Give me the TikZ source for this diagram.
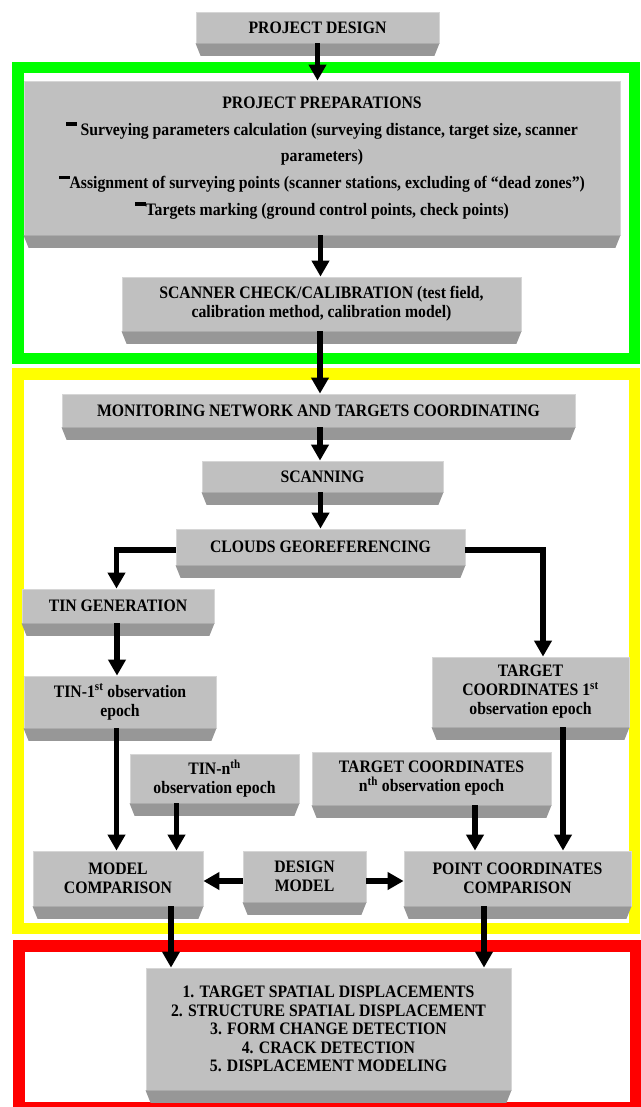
\documentclass[tikz,border=0pt]{standalone}
\usepackage{fontspec}
\setmainfont{Liberation Serif}[FakeStretch=0.9]
\usetikzlibrary{arrows.meta}

\definecolor{facegray}{HTML}{C0C0C0}
\definecolor{faceedge}{HTML}{D6D6D6}
\definecolor{stripgray}{HTML}{979797}
\definecolor{framegreen}{HTML}{00FF00}
\definecolor{frameyellow}{HTML}{FFFF00}
\definecolor{framered}{HTML}{FF0000}

% short raised dash in front of the list lines
\newcommand\bul{\rule[0.55em]{0.6em}{0.19em}}

\begin{document}
\begin{tikzpicture}[x=1pt, y=-1pt,
    % Estilos
    stage/.style 2 args={
        rectangle, fill=facegray, draw=faceedge, line width=0.8pt,
        inner sep=0pt, minimum width=#1, minimum height=#2,
        font=\fontsize{17.5}{19}\selectfont\bfseries, text=black, align=center
    },
    arrow/.style={
        -{Triangle[width=17pt, length=16pt]}, line width=5.5pt, color=black
    },
    frame/.style={
        draw=#1, line width=11.5pt
    }
]

\useasboundingbox[fill=white] (0,0) rectangle (640,1107);

% ── Marcos de fase ──
\draw[frame=framegreen]  (17.75,67.75) rectangle (634.25,358.25);
\draw[frame=frameyellow] (17.75,374)   rectangle (634.25,928.5);
\draw[frame=framered]    (19,946)      rectangle (636,1108);

% ── Preparación ──
\node[stage={243}{31}] (design) at (317.5,27.5) {PROJECT DESIGN};
\node[stage={596}{154}, font=\fontsize{17.5}{26.7}\selectfont\bfseries] (prep) at (322,158)
    {PROJECT PREPARATIONS\\
     \bul{} Surveying parameters calculation (surveying distance, target size, scanner\\
     parameters)\\
     \bul Assignment of surveying points (scanner stations, excluding of ``dead zones'')\\
     \bul Targets marking (ground control points, check points)};
\node[stage={399}{54}] (check) at (321.5,304)
    {SCANNER CHECK/CALIBRATION (test field,\\ calibration method, calibration model)};

% ── Medición ──
\node[stage={513}{33}] (monitor) at (318.5,410.5) {MONITORING NETWORK AND TARGETS COORDINATING};
\node[stage={241}{31}] (scan)    at (322.5,476.5) {SCANNING};
\node[stage={289}{36}] (clouds)  at (320.5,547)   {CLOUDS GEOREFERENCING};
\node[stage={192}{34}] (tingen)  at (118,606)     {TIN GENERATION};
\node[stage={192}{52}] (tin1)    at (120,702)     {TIN-1\textsuperscript{st} observation\\ epoch};
\node[stage={197}{70}] (target1) at (530.5,692)   {TARGET\\ COORDINATES 1\textsuperscript{st}\\ observation epoch};
\node[stage={169}{49}] (tinn)    at (214.5,778.5) {TIN-n\textsuperscript{th}\\ observation epoch};
\node[stage={239}{53}] (targetn) at (431.5,778.5) {TARGET COORDINATES\\ n\textsuperscript{th} observation epoch};
\node[stage={170}{55}] (model)   at (118,878.5)   {MODEL\\ COMPARISON};
\node[stage={123}{51}] (dmodel)  at (304.5,876.5) {DESIGN\\ MODEL};
\node[stage={227}{55}] (point)   at (517.5,878.5) {POINT COORDINATES\\ COMPARISON};

% ── Resultados ──
\node[stage={365}{122}, font=\fontsize{17.5}{18.5}\selectfont\bfseries] (results) at (328.5,1029)
    {1. TARGET SPATIAL DISPLACEMENTS\\
     2. STRUCTURE SPATIAL DISPLACEMENT\\
     3. FORM CHANGE DETECTION\\
     4. CRACK DETECTION\\
     5. DISPLACEMENT MODELING};

% bisel inferior de cada caja
\foreach \n in {design,prep,check,monitor,scan,clouds,tingen,tin1,target1,
                tinn,targetn,model,dmodel,point,results}
    \fill[stripgray] (\n.south west) -- (\n.south east)
        -- ([shift={(-5pt,-12.5pt)}]\n.south east)
        -- ([shift={(5pt,-12.5pt)}]\n.south west) -- cycle;

% ── Flechas ──
\draw[arrow] (design.south) -- (design.south |- prep.north);
\draw[arrow] ([xshift=-1.5pt]prep.south) -- ([xshift=-1.5pt]prep.south |- check.north);
\draw[arrow] ([xshift=-1.5pt]check.south) -- ([xshift=-1.5pt]check.south |- monitor.north);
\draw[arrow] ([xshift=1.5pt]monitor.south) -- ([xshift=1.5pt]monitor.south |- scan.north);
\draw[arrow] (clouds.north |- scan.south) -- (clouds.north);
\draw[arrow] ([yshift=-3pt]clouds.west) -| ([xshift=-1.5pt]tingen.north);
\draw[arrow] ([yshift=-3pt]clouds.east) -| ([xshift=12.5pt]target1.north);
\draw[arrow] ([xshift=-1pt]tingen.south) -- ([xshift=-1pt]tingen.south |- tin1.north);
\draw[arrow] ([xshift=-3.5pt]tin1.south) -- ([xshift=-3.5pt]tin1.south |- model.north);
\draw[arrow] ([xshift=-38pt]tinn.south) -- ([xshift=-38pt]tinn.south |- model.north);
\draw[arrow] ([xshift=43.5pt]targetn.south) -- ([xshift=43.5pt]targetn.south |- point.north);
\draw[arrow] ([xshift=32.5pt]target1.south) -- ([xshift=32.5pt]target1.south |- point.north);
\draw[arrow] ([yshift=-4.5pt]dmodel.west) -- ([yshift=-4.5pt]dmodel.west -| model.east);
\draw[arrow] ([yshift=-4.5pt]dmodel.east) -- ([yshift=-4.5pt]dmodel.east -| point.west);
\draw[arrow] ([xshift=53pt]model.south) -- ([xshift=53pt]model.south |- results.north);
\draw[arrow] ([xshift=-33.5pt]point.south) -- ([xshift=-33.5pt]point.south |- results.north);

\end{tikzpicture}
\end{document}
